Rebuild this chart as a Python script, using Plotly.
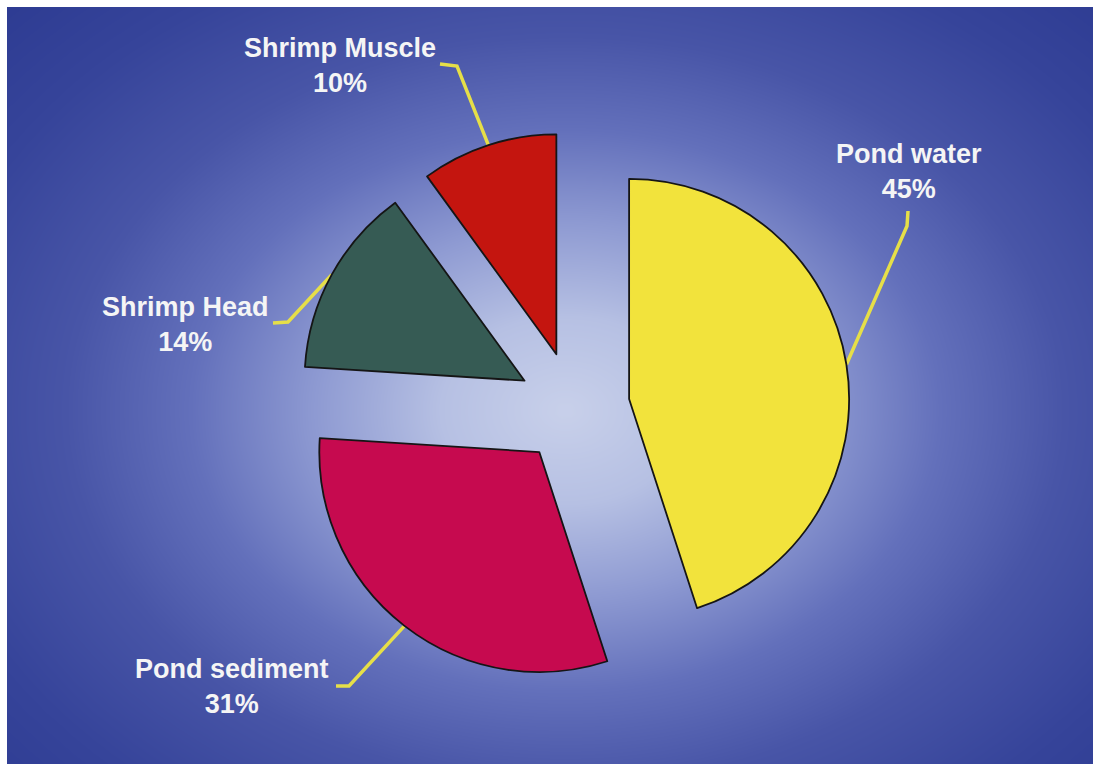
import numpy as np
import plotly.graph_objects as go

# ---- data ----
labels = ["Pond water", "Pond sediment", "Shrimp Head", "Shrimp Muscle"]
values = [45, 31, 14, 10]
colors = ["#f2e33c", "#c60a4f", "#365b54", "#c4150f"]

W, H = 1093, 764
PULL = 0.255
CX, CY = 573.7, 407.7     # pie centre (px)
R = 220.0                 # pie radius (px)

# label block centres (px) and leader-line elbow points (px)
label_pos = {
    "Pond water": (909, 171),
    "Pond sediment": (232, 686),
    "Shrimp Head": (185, 324),
    "Shrimp Muscle": (340, 65),
}
elbows = {
    "Pond water": [(908, 211), (907, 226)],
    "Pond sediment": [(336, 686), (349, 686)],
    "Shrimp Head": [(273, 323), (288, 322)],
    "Shrimp Muscle": [(440, 64), (457, 66)],
}

fig = go.Figure()

# ---- background radial gradient ----
nx, ny = 120, 90
x_l, y_t = -20, -20
x_r, y_b = W + 20, H + 20
dx = (x_r - x_l) / nx
dy = (y_b - y_t) / ny
xs = x_l + dx / 2 + dx * np.arange(nx)
ys = y_t + dy / 2 + dy * np.arange(ny)
XX, YY = np.meshgrid(xs, ys)
Z = np.sqrt(((XX - 565) / 520) ** 2 + ((YY - 410) / 390) ** 2)
fig.add_trace(go.Heatmap(
    z=Z, x0=xs[0], dx=dx, y0=ys[0], dy=dy, zsmooth="best",
    zmin=0, zmax=1.6, showscale=False, hoverinfo="skip",
    colorscale=[[0.0, "#c8d0ea"], [0.15, "#b6c0e3"], [0.3, "#8e9ad2"],
                [0.45, "#6370bb"], [0.6, "#4855a7"], [0.78, "#36449a"],
                [1.0, "#2a388f"]],
))

# ---- pie ----
box = 2 * R * (1 + PULL)
fig.add_trace(go.Pie(
    labels=labels, values=values, sort=False, direction="clockwise",
    rotation=0, pull=[PULL] * len(values), textinfo="none",
    marker=dict(colors=colors, line=dict(color="#151515", width=1.8)),
    domain=dict(x=[(CX - box / 2) / W, (CX + box / 2) / W],
                y=[1 - (CY + box / 2) / H, 1 - (CY - box / 2) / H]),
    showlegend=False,
))

# ---- leader lines & labels ----
total = sum(values)
cum = 0
lx, ly = [], []
annotations = []
for lab, v in zip(labels, values):
    mid = (cum + v / 2) / total * 2 * np.pi
    cum += v
    ax = CX + (R * (1 + PULL)) * np.sin(mid)
    ay = CY - (R * (1 + PULL)) * np.cos(mid)
    pts = elbows[lab] + [(ax, ay)]
    lx += [p[0] for p in pts] + [None]
    ly += [p[1] for p in pts] + [None]
    px, py = label_pos[lab]
    annotations.append(dict(
        x=px, y=py, xref="x", yref="y", showarrow=False,
        text=f"{lab}<br>{round(v / total * 100)}%",
        font=dict(family="Liberation Sans, Arial, sans-serif", size=27,
                  color="#f5f5f5", weight="bold"),
        xanchor="center", yanchor="middle", align="center",
    ))

fig.add_trace(go.Scatter(x=lx, y=ly, mode="lines", hoverinfo="skip",
                         line=dict(color="#e6df48", width=3.5),
                         showlegend=False))

# white scan margins at top and left
shapes = [
    dict(type="rect", xref="paper", yref="paper", x0=0, x1=7 / W, y0=0, y1=1,
         fillcolor="white", line=dict(width=0), layer="above"),
    dict(type="rect", xref="paper", yref="paper", x0=0, x1=1, y0=1 - 7 / H, y1=1,
         fillcolor="white", line=dict(width=0), layer="above"),
]

fig.update_layout(
    width=W, height=H, margin=dict(l=0, r=0, t=0, b=0),
    paper_bgcolor="#2a388f", plot_bgcolor="#2a388f",
    xaxis=dict(range=[0, W], visible=False, domain=[0, 1], fixedrange=True),
    yaxis=dict(range=[H, 0], visible=False, domain=[0, 1], fixedrange=True),
    annotations=annotations, shapes=shapes,
)

fig.write_html("out.html")
